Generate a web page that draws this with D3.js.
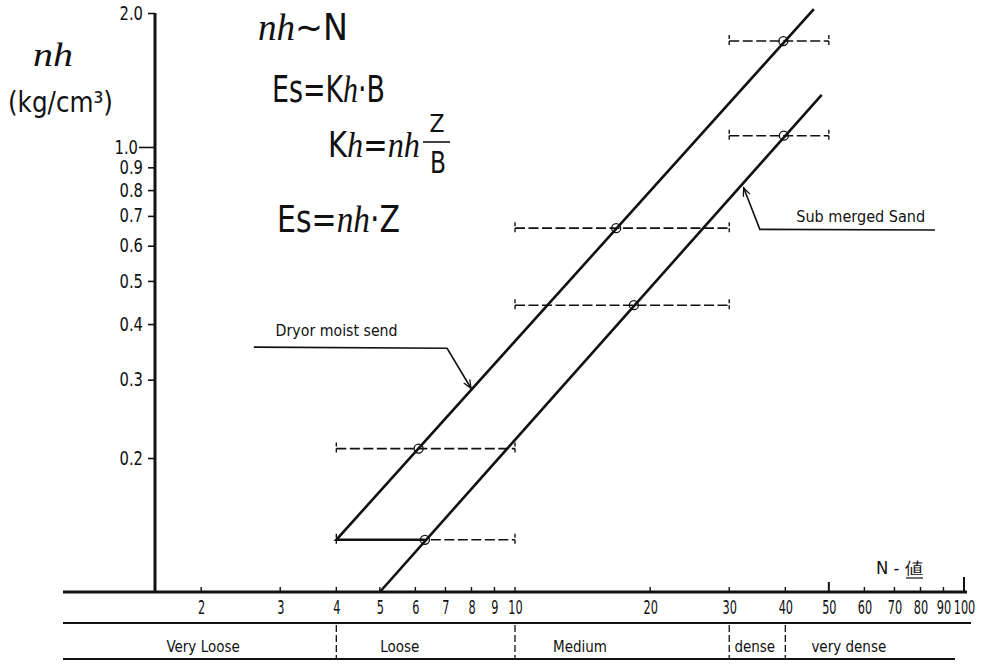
<!DOCTYPE html>
<html>
<head>
<meta charset="utf-8">
<script src="https://cdn.jsdelivr.net/npm/d3@7"></script>
<style>
  html, body { margin: 0; padding: 0; background: #fff; }
  svg { display: block; }
  text { fill: #111; font-family: "DejaVu Sans Condensed", "DejaVu Sans", sans-serif; }
  .scr { font-family: "Liberation Serif", "DejaVu Serif", serif; font-style: italic; }
</style>
</head>
<body>
<svg id="chart" width="990" height="667"></svg>
<script>
// N-value axis (log scale)
const nTicks = [2, 3, 4, 5, 6, 7, 8, 9, 10, 20, 30, 40, 50, 60, 70, 80, 90, 100];
const nTickLabels = ["2", "3", "4", "5", "6", "7", "8", "9", "10", "20", "30", "40", "50", "60", "70", "80", "90", "100"];

// nh axis (log scale), kg/cm3
const nhTicks = [2.0, 1.0, 0.9, 0.8, 0.7, 0.6, 0.5, 0.4, 0.3, 0.2];
const nhTickLabels = ["2.0", "1.0", "0.9", "0.8", "0.7", "0.6", "0.5", "0.4", "0.3", "0.2"];

// test results: dry or moist sand
const dryN = [6.1, 16.8, 39.6];
const dryNh = [0.21, 0.657, 1.73];

// test results: submerged sand
const subN = [6.3, 18.4, 39.7];
const subNh = [0.131, 0.441, 1.06];

// N range covered by each pair of results
const rangeLow = [4, 10, 30];
const rangeHigh = [10, 30, 50];

// design lines
const dryLineN = [6.3, 4, 46.3];
const dryLineNh = [0.131, 0.131, 2.04];
const subLineN = [5, 48.2];
const subLineNh = [0.1, 1.31];

// relative density classes by N
const classNames = ["Very Loose", "Loose", "Medium", "dense", "very dense"];
const classBounds = [1, 4, 10, 30, 40, 100];
const classLabelN = [2.02, 5.54, 13.96, 34.2, 55.4];

const svg = d3.select("#chart");
const x = d3.scaleLog().domain([1, 100]).range([66, 964]);
const y = d3.scaleLog().domain([0.1, 2]).range([592, 13]);
const axisY = y(0.1);
const axisX = 155;
const ink = "#111";

// width of a number label drawn in a narrow hand-lettered style
const numWidth = (s, cw) => s.split("").reduce((w, c) => w + (c === "." ? 4.5 : cw), 0);

// ---- nh axis ----
svg.append("line")
  .attr("x1", axisX).attr("x2", axisX)
  .attr("y1", y(2)).attr("y2", axisY)
  .attr("stroke", ink).attr("stroke-width", 3);

const yAxis = d3.axisLeft(y)
  .tickValues(nhTicks)
  .tickFormat((d, i) => nhTickLabels[i])
  .tickSize(7)
  .tickPadding(6);
const gy = svg.append("g").attr("transform", `translate(${axisX},0)`).call(yAxis);
gy.select(".domain").remove();
gy.selectAll(".tick line").attr("stroke", ink).attr("stroke-width", 1.6)
  .attr("x2", d => d === 1.0 ? -16 : -7);
gy.selectAll(".tick text")
  .attr("x", d => d === 1.0 ? -17 : -12)
  .attr("font-size", 19).attr("fill", ink)
  .attr("textLength", (d, i) => numWidth(nhTickLabels[i], 9.5))
  .attr("lengthAdjust", "spacingAndGlyphs")
  .style("font-family", "'DejaVu Sans Condensed','DejaVu Sans',sans-serif");

// ---- N axis ----
svg.append("line")
  .attr("x1", 63).attr("x2", x(100) + 3)
  .attr("y1", axisY).attr("y2", axisY)
  .attr("stroke", ink).attr("stroke-width", 3);

svg.append("g").selectAll("line.nt").data(nTicks).join("line")
  .attr("x1", d => x(d)).attr("x2", d => x(d))
  .attr("y1", axisY)
  .attr("y2", d => axisY - (d === 100 ? 15 : d === 50 ? 10 : 5))
  .attr("stroke", ink).attr("stroke-width", d => (d === 100 || d === 50) ? 2 : 1.4);

const xAxis = d3.axisBottom(x)
  .tickValues(nTicks)
  .tickFormat((d, i) => nTickLabels[i])
  .tickSize(0)
  .tickPadding(8);
const gx = svg.append("g").attr("transform", `translate(0,${axisY})`).call(xAxis);
gx.select(".domain").remove();
// labels narrowed with a horizontal scale so crowded ones stay apart
gx.selectAll(".tick text").attr("font-size", 20).attr("fill", ink)
  .style("font-family", "'DejaVu Sans Condensed','DejaVu Sans',sans-serif")
  .each(function (d, i) {
    const natural = this.getComputedTextLength();
    const k = numWidth(nTickLabels[i], 7.2) / natural;
    d3.select(this).attr("transform", `scale(${k},1)`);
  });

// N-値 axis title
svg.append("text").attr("x", 876).attr("y", 574).attr("font-size", 17)
  .attr("textLength", 47).attr("lengthAdjust", "spacingAndGlyphs").text("N - 値");
svg.append("line").attr("x1", 906).attr("x2", 923).attr("y1", 578).attr("y2", 578)
  .attr("stroke", ink).attr("stroke-width", 1.2);

// ---- relative density table ----
const tableTop = 623, tableBottom = 659;
svg.append("line").attr("x1", 63).attr("x2", 971).attr("y1", tableTop).attr("y2", tableTop)
  .attr("stroke", ink).attr("stroke-width", 2);
svg.append("line").attr("x1", 63).attr("x2", 955).attr("y1", tableBottom).attr("y2", tableBottom)
  .attr("stroke", ink).attr("stroke-width", 2);
svg.append("g").selectAll("line").data(classBounds.slice(1, -1)).join("line")
  .attr("x1", d => x(d)).attr("x2", d => x(d))
  .attr("y1", tableTop + 2).attr("y2", tableBottom - 1)
  .attr("stroke", ink).attr("stroke-width", 1.3).attr("stroke-dasharray", "7,3");
svg.append("g").selectAll("text").data(classNames).join("text")
  .attr("x", (d, i) => x(classLabelN[i]))
  .attr("y", 652)
  .attr("text-anchor", "middle")
  .attr("font-size", 15)
  .text(d => d);

// ---- N range bars (dashed) ----
const bars = d3.range(rangeLow.length).flatMap(i => [
  { lo: rangeLow[i], hi: rangeHigh[i], v: dryNh[i] },
  { lo: rangeLow[i], hi: rangeHigh[i], v: subNh[i] }
]);
const gBars = svg.append("g").attr("stroke", ink).attr("fill", "none");
gBars.selectAll("line.bar").data(bars).join("line")
  .attr("x1", d => x(d.lo)).attr("x2", d => x(d.hi))
  .attr("y1", d => y(d.v)).attr("y2", d => y(d.v))
  .attr("stroke-width", 1.6).attr("stroke-dasharray", "10,3.5");
gBars.selectAll("line.capL").data(bars).join("line")
  .attr("x1", d => x(d.lo)).attr("x2", d => x(d.lo))
  .attr("y1", d => y(d.v) - 6).attr("y2", d => y(d.v) + 6)
  .attr("stroke-width", 1.4).attr("stroke-dasharray", "4,2");
gBars.selectAll("line.capR").data(bars).join("line")
  .attr("x1", d => x(d.hi)).attr("x2", d => x(d.hi))
  .attr("y1", d => y(d.v) - 6).attr("y2", d => y(d.v) + 6)
  .attr("stroke-width", 1.4).attr("stroke-dasharray", "4,2");

// ---- design lines ----
const line = d3.line().x(d => x(d[0])).y(d => y(d[1]));
svg.append("path")
  .attr("d", line(dryLineN.map((n, i) => [n, dryLineNh[i]])))
  .attr("fill", "none").attr("stroke", ink).attr("stroke-width", 2.6).attr("stroke-linejoin", "miter");
svg.append("path")
  .attr("d", line(subLineN.map((n, i) => [n, subLineNh[i]])))
  .attr("fill", "none").attr("stroke", ink).attr("stroke-width", 2.6);

// ---- test points ----
const pts = dryN.map((n, i) => [n, dryNh[i]]).concat(subN.map((n, i) => [n, subNh[i]]));
svg.append("g").selectAll("circle").data(pts).join("circle")
  .attr("cx", d => x(d[0])).attr("cy", d => y(d[1])).attr("r", 4.5)
  .attr("fill", "none").attr("stroke", ink).attr("stroke-width", 1.3);

// ---- leaders with arrowheads ----
function leader(points, label, labelAt, size) {
  const p = points.map(d => [x(d[0]), y(d[1])]);
  svg.append("path").attr("d", d3.line()(p))
    .attr("fill", "none").attr("stroke", ink).attr("stroke-width", 1.6);
  const [tx, ty] = p[p.length - 1];
  const [sx, sy] = p[p.length - 2];
  const ang = Math.atan2(ty - sy, tx - sx);
  const len = 9, spread = 0.4;
  const head = [
    [tx - len * Math.cos(ang - spread), ty - len * Math.sin(ang - spread)],
    [tx, ty],
    [tx - len * Math.cos(ang + spread), ty - len * Math.sin(ang + spread)]
  ];
  svg.append("path").attr("d", d3.line()(head))
    .attr("fill", "none").attr("stroke", ink).attr("stroke-width", 1.3);
  svg.append("text").attr("x", x(labelAt[0])).attr("y", y(labelAt[1]))
    .attr("font-size", size.fs).attr("textLength", size.w).attr("lengthAdjust", "spacingAndGlyphs")
    .text(label);
}
leader([[2.62, 0.355], [7.06, 0.353], [7.98, 0.287]], "Dryor moist send", [2.93, 0.376], { fs: 15, w: 122 });
leader([[86.2, 0.651], [35.1, 0.653], [32.3, 0.81]], "Sub merged Sand", [42.3, 0.679], { fs: 16, w: 129 });

// ---- text squeezed horizontally to a given width ----
function squeezed(xp, yp, fs, w, parts, anchorMiddle) {
  const t = svg.append("text").attr("font-size", fs);
  parts.forEach(p => {
    const s = t.append("tspan").text(p[0]);
    if (p[1]) s.attr("class", "scr");
  });
  const natural = t.node().getComputedTextLength();
  const k = w / natural;
  const x0 = anchorMiddle ? xp - w / 2 : xp;
  t.attr("transform", `translate(${x0},${yp}) scale(${k},1)`);
  return t;
}

// ---- nh axis title ----
squeezed(33, 66, 34, 40, [["nh", true]]);
squeezed(8, 112, 28, 105, [["(kg/cm³)", false]]);

// ---- relations ----
squeezed(258, 40, 37, 90, [["nh", true], ["∼N", false]]);
squeezed(272, 102, 37, 113, [["Es=K", false], ["h", true], ["·B", false]]);
squeezed(328, 157, 35, 92, [["K", false], ["h", true], ["=", false], ["nh", true]]);
squeezed(437, 132, 25, 15, [["Z", false]], true);
svg.append("line").attr("x1", 423).attr("x2", 450).attr("y1", 142).attr("y2", 142)
  .attr("stroke", ink).attr("stroke-width", 1.6);
squeezed(438, 173, 31, 16, [["B", false]], true);
squeezed(277, 232, 38, 123, [["Es=", false], ["nh", true], ["·Z", false]]);
</script>
</body>
</html>
